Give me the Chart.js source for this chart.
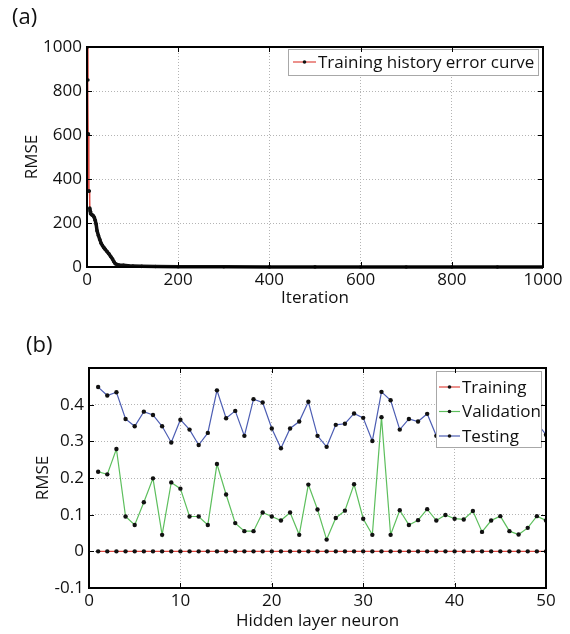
<!DOCTYPE html>
<html>
<head>
<meta charset="utf-8">
<script src="https://cdn.jsdelivr.net/npm/chart.js@4.4.1/dist/chart.umd.min.js"></script>
<style>
  body { margin: 0; background: #fff; width: 570px; height: 634px; position: relative; overflow: hidden; font-family: "Open Sans", sans-serif; }
  .panel { position: absolute; left: 0; width: 570px; height: 317px; }
  .tag { position: absolute; font-size: 22px; line-height: 22px; color: #111; }
</style>
</head>
<body>
<div class="panel" style="top:0"><canvas id="chartA" width="570" height="317"></canvas></div>
<div class="panel" style="top:317px"><canvas id="chartB" width="570" height="317"></canvas></div>
<div class="tag" style="left:12px; top:4px">(a)</div>
<div class="tag" style="left:26px; top:332px">(b)</div>
<script>
// (a) training history
const iterations = [1, 2, 3, 4, 5, 6, 7, 8, 10, 12, 14, 16, 18, 20, 22, 25, 28, 31, 34, 37, 40, 44, 48, 52, 56, 59, 62, 66, 70, 80, 90, 100, 120, 150, 200, 300, 400, 500, 600, 700, 800, 900, 1000]
const historyRmse = [1000, 850, 605, 345, 345, 268, 255, 242, 238, 236, 232, 225, 212, 195, 165, 143, 125, 108, 97, 88, 80, 70, 60, 48, 36, 24, 15, 11, 9, 8, 6, 4, 3, 2, 1.2, 0.8, 0.5, 0.4, 0.3, 0.3, 0.2, 0.2, 0.2]
const iterTicks = [0, 200, 400, 600, 800, 1000]

// (b) hidden layer neurons
const neurons = [1, 2, 3, 4, 5, 6, 7, 8, 9, 10, 11, 12, 13, 14, 15, 16, 17, 18, 19, 20, 21, 22, 23, 24, 25,
  26, 27, 28, 29, 30, 31, 32, 33, 34, 35, 36, 37, 38, 39, 40, 41, 42, 43, 44, 45, 46, 47, 48, 49, 50]
const trainingRmse = [0, 0, 0, 0, 0, 0, 0, 0, 0, 0, 0, 0, 0, 0, 0, 0, 0, 0, 0, 0, 0, 0, 0, 0, 0,
  0, 0, 0, 0, 0, 0, 0, 0, 0, 0, 0, 0, 0, 0, 0, 0, 0, 0, 0, 0, 0, 0, 0, 0, 0]
const validationRmse = [0.217, 0.210, 0.279, 0.095, 0.072, 0.134, 0.199, 0.045, 0.188, 0.171,
  0.095, 0.095, 0.072, 0.238, 0.155, 0.077, 0.055, 0.055, 0.106, 0.095,
  0.084, 0.106, 0.045, 0.182, 0.114, 0.032, 0.091, 0.111, 0.183, 0.089,
  0.045, 0.366, 0.045, 0.112, 0.072, 0.085, 0.115, 0.084, 0.099, 0.089,
  0.087, 0.110, 0.053, 0.084, 0.096, 0.055, 0.046, 0.064, 0.096, 0.084]
const testingRmse = [0.448, 0.425, 0.434, 0.361, 0.341, 0.381, 0.372, 0.341, 0.297, 0.359,
  0.332, 0.290, 0.323, 0.439, 0.363, 0.383, 0.315, 0.415, 0.406, 0.335,
  0.281, 0.335, 0.354, 0.408, 0.315, 0.285, 0.345, 0.348, 0.376, 0.364,
  0.301, 0.435, 0.412, 0.332, 0.361, 0.354, 0.375, 0.315, 0.33, 0.36,
  0.34, 0.38, 0.35, 0.32, 0.37, 0.34, 0.36, 0.33, 0.35, 0.318]

const FONT = { family: "'Open Sans', sans-serif", size: 17 }
const TEXT = "#111"
const GRID = "#b4b4b4"
const RED = "#e0473f"
const GREEN = "#5dbf5d"
const BLUE = "#4c5db3"

// legend box drawn inside the plot, on top of the lines
const boxLegend = {
  id: "boxLegend",
  afterDatasetsDraw(chart, args, opts) {
    const { ctx, chartArea: a } = chart
    const left = a.right - opts.right - opts.width
    const top = a.top + opts.top
    ctx.save()
    ctx.fillStyle = "#fff"
    ctx.fillRect(left, top, opts.width, opts.height)
    ctx.strokeStyle = "#a8a8a8"
    ctx.lineWidth = 1
    ctx.strokeRect(left + 0.5, top + 0.5, opts.width - 1, opts.height - 1)
    ctx.beginPath()
    ctx.rect(left, top, opts.width - 1, opts.height)
    ctx.clip()
    ctx.font = "17px 'Open Sans', sans-serif"
    ctx.textBaseline = "middle"
    chart.data.datasets.forEach((ds, i) => {
      const cy = top + opts.rowTop + i * opts.rowGap
      ctx.strokeStyle = ds.borderColor
      ctx.lineWidth = 1.2
      ctx.beginPath()
      ctx.moveTo(left + opts.lineFrom, cy)
      ctx.lineTo(left + opts.lineTo, cy)
      ctx.stroke()
      ctx.fillStyle = "#111"
      ctx.beginPath()
      ctx.arc(left + (opts.lineFrom + opts.lineTo) / 2, cy, 1.8, 0, Math.PI * 2)
      ctx.fill()
      ctx.fillText(ds.label, left + opts.textX, cy + 1)
    })
    ctx.restore()
  },
}

// black box with inward ticks, like the original axes
const frame = {
  id: "frame",
  afterDraw(chart) {
    const { ctx, chartArea: a, scales } = chart
    ctx.save()
    ctx.strokeStyle = "#000"
    ctx.lineWidth = 1
    ctx.beginPath()
    scales.x.ticks.forEach((t) => {
      const px = Math.round(scales.x.getPixelForValue(t.value)) + 0.5
      ctx.moveTo(px, a.bottom); ctx.lineTo(px, a.bottom - 5)
      ctx.moveTo(px, a.top); ctx.lineTo(px, a.top + 5)
    })
    scales.y.ticks.forEach((t) => {
      const py = Math.round(scales.y.getPixelForValue(t.value)) + 0.5
      ctx.moveTo(a.left, py); ctx.lineTo(a.left + 5, py)
      ctx.moveTo(a.right, py); ctx.lineTo(a.right - 5, py)
    })
    ctx.stroke()
    ctx.lineWidth = 2
    ctx.strokeRect(a.left, a.top, a.right - a.left, a.bottom - a.top)
    ctx.restore()
  },
}

function axis(min, max, step, title, titlePad, size, isX, fmt) {
  return {
    type: "linear",
    min, max,
    ticks: {
      stepSize: step, font: FONT, color: TEXT, padding: isX ? 3 : 5, maxRotation: 0, autoSkip: false,
      callback: fmt,
    },
    grid: { color: GRID, lineWidth: 1, drawTicks: false },
    border: { display: false, dash: [1, 2] },
    title: { display: true, text: title, font: FONT, color: TEXT, padding: titlePad },
    afterFit: (s) => { if (isX) s.height = size; else s.width = size },
  }
}

new Chart(document.getElementById("chartA"), {
  type: "line",
  data: {
    datasets: [{
      label: "Training history error curve",
      data: iterations.map((it, i) => ({ x: it, y: historyRmse[i] })),
      borderColor: RED,
      borderWidth: 1,
      pointRadius: 1.8,
      pointBackgroundColor: "#111",
      pointBorderWidth: 0,
      tension: 0,
      clip: { left: 0, top: 0, right: 0, bottom: 3 },
      segment: {
        borderColor: (c) => (c.p0.parsed.y < 300 ? "#111" : RED),
        borderWidth: (c) => (c.p0.parsed.y < 300 ? 3.5 : 1),
      },
    }],
  },
  options: {
    responsive: false,
    animation: false,
    layout: { padding: { top: 47, right: 27, left: 0, bottom: 0 } },
    plugins: {
      legend: { display: false },
      tooltip: { enabled: false },
      boxLegend: { width: 251, height: 27, right: 4, top: 2, rowTop: 13, rowGap: 0, lineFrom: 5, lineTo: 28, textX: 30 },
    },
    scales: {
      x: axis(0, 1000, 200, "Iteration", { top: 0, bottom: 9 }, 50, true),
      y: axis(0, 1000, 200, "RMSE", { top: 22, bottom: 0 }, 87, false),
    },
  },
  plugins: [boxLegend, frame],
})

const fmtB = (v) => (v > 0.45 ? "" : String(Math.round(v * 10) / 10))

new Chart(document.getElementById("chartB"), {
  type: "line",
  data: {
    labels: neurons,
    datasets: [
      { label: "Training", data: trainingRmse, borderColor: RED },
      { label: "Validation", data: validationRmse, borderColor: GREEN },
      { label: "Testing", data: testingRmse, borderColor: BLUE },
    ].map((d) => ({
      ...d,
      data: d.data.map((v, i) => ({ x: neurons[i], y: v })),
      borderWidth: 1.2,
      pointRadius: 2.2,
      pointBackgroundColor: "#111",
      pointBorderWidth: 0,
      tension: 0,
    })),
  },
  options: {
    responsive: false,
    animation: false,
    layout: { padding: { top: 51, right: 24, left: 0, bottom: 0 } },
    plugins: {
      legend: { display: false },
      tooltip: { enabled: false },
      boxLegend: { width: 106, height: 77, right: 4, top: 3, rowTop: 16, rowGap: 24.5, lineFrom: 3, lineTo: 24, textX: 26 },
    },
    scales: {
      x: axis(0, 50, 10, "Hidden layer neuron", { top: 0, bottom: 3 }, 46, true),
      y: axis(-0.1, 0.5, 0.1, "RMSE", { top: 33, bottom: 0 }, 89, false, fmtB),
    },
  },
  plugins: [boxLegend, frame],
})
</script>
</body>
</html>
